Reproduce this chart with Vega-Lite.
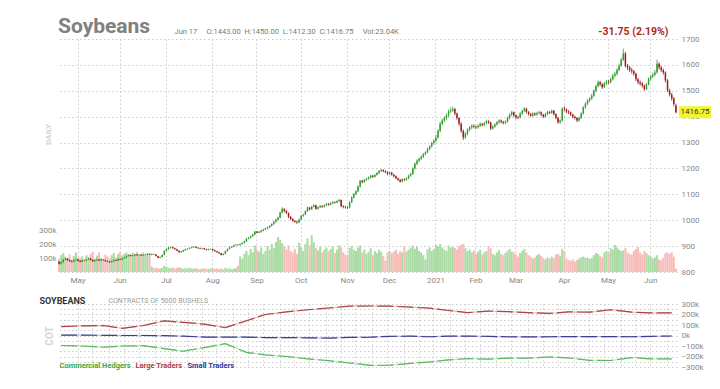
{
"$schema": "https://vega.github.io/schema/vega-lite/v6.json",
"background": "white",
"padding": {"left": 38, "top": 16, "right": 5, "bottom": 5},
"config": {"view": {"stroke": null}, "font": "Roboto"},
"resolve": {"scale": {"x": "shared"}, "legend": {"color": "independent"}},
"spacing": 12,
"datasets": {
"px": [
{"d":"2020-04-20","o":840,"h":842,"l":829,"c":832,"v":95},
{"d":"2020-04-21","o":832,"h":841,"l":830,"c":838,"v":120},
{"d":"2020-04-22","o":838,"h":850,"l":836,"c":848,"v":135},
{"d":"2020-04-23","o":848,"h":855,"l":845,"c":852,"v":110},
{"d":"2020-04-24","o":852,"h":854,"l":843,"c":846,"v":100},
{"d":"2020-04-27","o":846,"h":848,"l":839,"c":842,"v":125},
{"d":"2020-04-28","o":842,"h":845,"l":837,"c":840,"v":90},
{"d":"2020-04-29","o":840,"h":848,"l":838,"c":846,"v":115},
{"d":"2020-04-30","o":846,"h":851,"l":844,"c":848,"v":140},
{"d":"2020-05-01","o":848,"h":850,"l":841,"c":843,"v":105},
{"d":"2020-05-04","o":843,"h":845,"l":837,"c":840,"v":98},
{"d":"2020-05-05","o":840,"h":847,"l":838,"c":845,"v":112},
{"d":"2020-05-06","o":845,"h":848,"l":842,"c":844,"v":85},
{"d":"2020-05-07","o":844,"h":851,"l":842,"c":849,"v":120},
{"d":"2020-05-08","o":849,"h":854,"l":847,"c":852,"v":108},
{"d":"2020-05-11","o":852,"h":853,"l":844,"c":846,"v":130},
{"d":"2020-05-12","o":846,"h":848,"l":840,"c":842,"v":145},
{"d":"2020-05-13","o":842,"h":847,"l":840,"c":845,"v":96},
{"d":"2020-05-14","o":845,"h":850,"l":843,"c":848,"v":118},
{"d":"2020-05-15","o":848,"h":849,"l":842,"c":844,"v":140},
{"d":"2020-05-18","o":844,"h":850,"l":842,"c":848,"v":100},
{"d":"2020-05-19","o":848,"h":850,"l":844,"c":846,"v":88},
{"d":"2020-05-20","o":846,"h":848,"l":840,"c":842,"v":125},
{"d":"2020-05-21","o":842,"h":844,"l":838,"c":840,"v":112},
{"d":"2020-05-22","o":840,"h":842,"l":835,"c":838,"v":97},
{"d":"2020-05-26","o":838,"h":844,"l":836,"c":842,"v":120},
{"d":"2020-05-27","o":842,"h":848,"l":840,"c":846,"v":135},
{"d":"2020-05-28","o":846,"h":848,"l":842,"c":844,"v":104},
{"d":"2020-05-29","o":844,"h":852,"l":843,"c":850,"v":128},
{"d":"2020-06-01","o":850,"h":852,"l":846,"c":848,"v":143},
{"d":"2020-06-02","o":848,"h":854,"l":846,"c":852,"v":118},
{"d":"2020-06-03","o":852,"h":858,"l":850,"c":856,"v":132},
{"d":"2020-06-04","o":856,"h":864,"l":855,"c":862,"v":140},
{"d":"2020-06-05","o":862,"h":868,"l":860,"c":866,"v":125},
{"d":"2020-06-08","o":866,"h":867,"l":859,"c":862,"v":110},
{"d":"2020-06-09","o":862,"h":866,"l":860,"c":864,"v":138},
{"d":"2020-06-10","o":864,"h":870,"l":862,"c":868,"v":126},
{"d":"2020-06-11","o":868,"h":869,"l":863,"c":865,"v":145},
{"d":"2020-06-12","o":865,"h":869,"l":863,"c":867,"v":118},
{"d":"2020-06-15","o":867,"h":868,"l":862,"c":864,"v":130},
{"d":"2020-06-16","o":864,"h":868,"l":862,"c":866,"v":140},
{"d":"2020-06-17","o":866,"h":870,"l":864,"c":868,"v":122},
{"d":"2020-06-18","o":868,"h":872,"l":866,"c":870,"v":135},
{"d":"2020-06-19","o":870,"h":871,"l":864,"c":866,"v":115},
{"d":"2020-06-22","o":866,"h":871,"l":864,"c":869,"v":40},
{"d":"2020-06-23","o":869,"h":871,"l":866,"c":868,"v":28},
{"d":"2020-06-24","o":868,"h":869,"l":860,"c":862,"v":32},
{"d":"2020-06-25","o":862,"h":863,"l":853,"c":855,"v":26},
{"d":"2020-06-26","o":855,"h":860,"l":853,"c":858,"v":24},
{"d":"2020-06-29","o":858,"h":868,"l":856,"c":866,"v":30},
{"d":"2020-06-30","o":866,"h":884,"l":864,"c":881,"v":45},
{"d":"2020-07-01","o":881,"h":891,"l":879,"c":888,"v":38},
{"d":"2020-07-02","o":888,"h":897,"l":886,"c":894,"v":30},
{"d":"2020-07-06","o":894,"h":899,"l":891,"c":896,"v":28},
{"d":"2020-07-07","o":896,"h":898,"l":890,"c":892,"v":33},
{"d":"2020-07-08","o":892,"h":894,"l":886,"c":888,"v":25},
{"d":"2020-07-09","o":888,"h":890,"l":880,"c":882,"v":30},
{"d":"2020-07-10","o":882,"h":884,"l":874,"c":876,"v":35},
{"d":"2020-07-13","o":876,"h":881,"l":874,"c":879,"v":27},
{"d":"2020-07-14","o":879,"h":886,"l":877,"c":884,"v":22},
{"d":"2020-07-15","o":884,"h":890,"l":882,"c":888,"v":28},
{"d":"2020-07-16","o":888,"h":892,"l":886,"c":890,"v":25},
{"d":"2020-07-17","o":890,"h":895,"l":888,"c":893,"v":31},
{"d":"2020-07-20","o":893,"h":898,"l":891,"c":896,"v":26},
{"d":"2020-07-21","o":896,"h":900,"l":894,"c":898,"v":24},
{"d":"2020-07-22","o":898,"h":899,"l":892,"c":894,"v":29},
{"d":"2020-07-23","o":894,"h":896,"l":890,"c":892,"v":22},
{"d":"2020-07-24","o":892,"h":894,"l":888,"c":890,"v":20},
{"d":"2020-07-27","o":890,"h":894,"l":888,"c":892,"v":24},
{"d":"2020-07-28","o":892,"h":893,"l":886,"c":888,"v":27},
{"d":"2020-07-29","o":888,"h":890,"l":883,"c":885,"v":23},
{"d":"2020-07-30","o":885,"h":890,"l":883,"c":888,"v":21},
{"d":"2020-07-31","o":888,"h":891,"l":886,"c":889,"v":25},
{"d":"2020-08-03","o":889,"h":890,"l":882,"c":884,"v":28},
{"d":"2020-08-04","o":884,"h":886,"l":878,"c":880,"v":22},
{"d":"2020-08-05","o":880,"h":882,"l":874,"c":876,"v":26},
{"d":"2020-08-06","o":876,"h":878,"l":870,"c":872,"v":20},
{"d":"2020-08-07","o":872,"h":873,"l":864,"c":866,"v":25},
{"d":"2020-08-10","o":866,"h":872,"l":864,"c":870,"v":18},
{"d":"2020-08-11","o":870,"h":883,"l":868,"c":881,"v":30},
{"d":"2020-08-12","o":881,"h":891,"l":879,"c":889,"v":22},
{"d":"2020-08-13","o":889,"h":898,"l":887,"c":895,"v":26},
{"d":"2020-08-14","o":895,"h":900,"l":893,"c":898,"v":19},
{"d":"2020-08-17","o":898,"h":905,"l":896,"c":903,"v":24},
{"d":"2020-08-18","o":903,"h":908,"l":901,"c":905,"v":28},
{"d":"2020-08-19","o":905,"h":907,"l":902,"c":904,"v":45},
{"d":"2020-08-20","o":904,"h":910,"l":902,"c":908,"v":110},
{"d":"2020-08-21","o":908,"h":914,"l":906,"c":912,"v":95},
{"d":"2020-08-24","o":912,"h":921,"l":910,"c":918,"v":130},
{"d":"2020-08-25","o":918,"h":931,"l":916,"c":928,"v":150},
{"d":"2020-08-26","o":928,"h":935,"l":926,"c":932,"v":120},
{"d":"2020-08-27","o":932,"h":941,"l":930,"c":938,"v":165},
{"d":"2020-08-28","o":938,"h":948,"l":936,"c":945,"v":140},
{"d":"2020-08-31","o":945,"h":959,"l":943,"c":956,"v":190},
{"d":"2020-09-01","o":956,"h":958,"l":949,"c":952,"v":160},
{"d":"2020-09-02","o":952,"h":958,"l":950,"c":955,"v":145},
{"d":"2020-09-03","o":955,"h":963,"l":952,"c":960,"v":175},
{"d":"2020-09-04","o":960,"h":967,"l":957,"c":964,"v":130},
{"d":"2020-09-08","o":964,"h":971,"l":961,"c":968,"v":150},
{"d":"2020-09-09","o":968,"h":975,"l":965,"c":972,"v":185},
{"d":"2020-09-10","o":972,"h":981,"l":969,"c":978,"v":160},
{"d":"2020-09-11","o":978,"h":988,"l":975,"c":985,"v":200},
{"d":"2020-09-14","o":985,"h":997,"l":982,"c":994,"v":170},
{"d":"2020-09-15","o":994,"h":1006,"l":990,"c":1002,"v":215},
{"d":"2020-09-16","o":1002,"h":1014,"l":998,"c":1010,"v":250},
{"d":"2020-09-17","o":1010,"h":1034,"l":1007,"c":1030,"v":230},
{"d":"2020-09-18","o":1030,"h":1050,"l":1026,"c":1044,"v":205},
{"d":"2020-09-21","o":1044,"h":1046,"l":1030,"c":1036,"v":180},
{"d":"2020-09-22","o":1036,"h":1039,"l":1024,"c":1028,"v":160},
{"d":"2020-09-23","o":1028,"h":1030,"l":1008,"c":1013,"v":190},
{"d":"2020-09-24","o":1013,"h":1016,"l":1000,"c":1005,"v":150},
{"d":"2020-09-25","o":1005,"h":1008,"l":994,"c":998,"v":140},
{"d":"2020-09-28","o":998,"h":1001,"l":990,"c":994,"v":165},
{"d":"2020-09-29","o":994,"h":997,"l":986,"c":991,"v":130},
{"d":"2020-09-30","o":991,"h":1006,"l":989,"c":1003,"v":210},
{"d":"2020-10-01","o":1003,"h":1020,"l":1000,"c":1017,"v":175},
{"d":"2020-10-02","o":1017,"h":1025,"l":1013,"c":1022,"v":150},
{"d":"2020-10-05","o":1022,"h":1038,"l":1019,"c":1035,"v":200},
{"d":"2020-10-06","o":1035,"h":1053,"l":1032,"c":1049,"v":240},
{"d":"2020-10-07","o":1049,"h":1051,"l":1038,"c":1042,"v":190},
{"d":"2020-10-08","o":1042,"h":1056,"l":1040,"c":1052,"v":262},
{"d":"2020-10-09","o":1052,"h":1062,"l":1049,"c":1058,"v":210},
{"d":"2020-10-12","o":1058,"h":1060,"l":1040,"c":1044,"v":170},
{"d":"2020-10-13","o":1044,"h":1053,"l":1041,"c":1050,"v":155},
{"d":"2020-10-14","o":1050,"h":1059,"l":1047,"c":1055,"v":180},
{"d":"2020-10-15","o":1055,"h":1058,"l":1048,"c":1052,"v":140},
{"d":"2020-10-16","o":1052,"h":1061,"l":1049,"c":1058,"v":160},
{"d":"2020-10-19","o":1058,"h":1067,"l":1055,"c":1063,"v":175},
{"d":"2020-10-20","o":1063,"h":1066,"l":1056,"c":1060,"v":150},
{"d":"2020-10-21","o":1060,"h":1069,"l":1057,"c":1066,"v":165},
{"d":"2020-10-22","o":1066,"h":1074,"l":1063,"c":1070,"v":185},
{"d":"2020-10-23","o":1070,"h":1073,"l":1064,"c":1068,"v":135},
{"d":"2020-10-26","o":1068,"h":1077,"l":1065,"c":1074,"v":160},
{"d":"2020-10-27","o":1074,"h":1083,"l":1070,"c":1078,"v":190},
{"d":"2020-10-28","o":1078,"h":1080,"l":1050,"c":1055,"v":175},
{"d":"2020-10-29","o":1055,"h":1058,"l":1046,"c":1052,"v":140},
{"d":"2020-10-30","o":1052,"h":1056,"l":1045,"c":1050,"v":125},
{"d":"2020-11-02","o":1050,"h":1054,"l":1043,"c":1049,"v":120},
{"d":"2020-11-03","o":1049,"h":1073,"l":1046,"c":1070,"v":170},
{"d":"2020-11-04","o":1070,"h":1092,"l":1066,"c":1088,"v":185},
{"d":"2020-11-05","o":1088,"h":1105,"l":1084,"c":1101,"v":160},
{"d":"2020-11-06","o":1101,"h":1116,"l":1097,"c":1112,"v":150},
{"d":"2020-11-09","o":1112,"h":1135,"l":1108,"c":1130,"v":175},
{"d":"2020-11-10","o":1130,"h":1156,"l":1126,"c":1152,"v":190},
{"d":"2020-11-11","o":1152,"h":1155,"l":1142,"c":1148,"v":140},
{"d":"2020-11-12","o":1148,"h":1160,"l":1144,"c":1156,"v":160},
{"d":"2020-11-13","o":1156,"h":1164,"l":1152,"c":1160,"v":130},
{"d":"2020-11-16","o":1160,"h":1169,"l":1156,"c":1165,"v":145},
{"d":"2020-11-17","o":1165,"h":1176,"l":1161,"c":1172,"v":170},
{"d":"2020-11-18","o":1172,"h":1175,"l":1163,"c":1168,"v":120},
{"d":"2020-11-19","o":1168,"h":1179,"l":1165,"c":1175,"v":150},
{"d":"2020-11-20","o":1175,"h":1186,"l":1172,"c":1182,"v":135},
{"d":"2020-11-23","o":1182,"h":1194,"l":1178,"c":1190,"v":160},
{"d":"2020-11-24","o":1190,"h":1198,"l":1186,"c":1194,"v":145},
{"d":"2020-11-25","o":1194,"h":1197,"l":1185,"c":1190,"v":115},
{"d":"2020-11-27","o":1190,"h":1193,"l":1182,"c":1186,"v":80},
{"d":"2020-11-30","o":1186,"h":1189,"l":1174,"c":1179,"v":140},
{"d":"2020-12-01","o":1179,"h":1188,"l":1175,"c":1184,"v":150},
{"d":"2020-12-02","o":1184,"h":1187,"l":1172,"c":1176,"v":135},
{"d":"2020-12-03","o":1176,"h":1179,"l":1165,"c":1170,"v":145},
{"d":"2020-12-04","o":1170,"h":1173,"l":1158,"c":1162,"v":160},
{"d":"2020-12-07","o":1162,"h":1165,"l":1151,"c":1156,"v":130},
{"d":"2020-12-08","o":1156,"h":1159,"l":1145,"c":1150,"v":150},
{"d":"2020-12-09","o":1150,"h":1162,"l":1146,"c":1158,"v":140},
{"d":"2020-12-10","o":1158,"h":1162,"l":1151,"c":1156,"v":185},
{"d":"2020-12-11","o":1156,"h":1166,"l":1152,"c":1162,"v":145},
{"d":"2020-12-14","o":1162,"h":1176,"l":1158,"c":1172,"v":160},
{"d":"2020-12-15","o":1172,"h":1183,"l":1168,"c":1179,"v":175},
{"d":"2020-12-16","o":1179,"h":1204,"l":1175,"c":1200,"v":190},
{"d":"2020-12-17","o":1200,"h":1223,"l":1196,"c":1218,"v":165},
{"d":"2020-12-18","o":1218,"h":1235,"l":1213,"c":1230,"v":180},
{"d":"2020-12-21","o":1230,"h":1242,"l":1224,"c":1237,"v":150},
{"d":"2020-12-22","o":1237,"h":1250,"l":1232,"c":1245,"v":140},
{"d":"2020-12-23","o":1245,"h":1260,"l":1240,"c":1255,"v":120},
{"d":"2020-12-24","o":1255,"h":1266,"l":1250,"c":1262,"v":90},
{"d":"2020-12-28","o":1262,"h":1280,"l":1258,"c":1275,"v":160},
{"d":"2020-12-29","o":1275,"h":1290,"l":1270,"c":1285,"v":175},
{"d":"2020-12-30","o":1285,"h":1303,"l":1280,"c":1298,"v":150},
{"d":"2020-12-31","o":1298,"h":1313,"l":1292,"c":1307,"v":165},
{"d":"2021-01-04","o":1307,"h":1330,"l":1300,"c":1320,"v":195},
{"d":"2021-01-05","o":1320,"h":1352,"l":1315,"c":1345,"v":185},
{"d":"2021-01-06","o":1345,"h":1380,"l":1340,"c":1373,"v":200},
{"d":"2021-01-07","o":1373,"h":1392,"l":1366,"c":1385,"v":175},
{"d":"2021-01-08","o":1385,"h":1402,"l":1378,"c":1395,"v":160},
{"d":"2021-01-11","o":1395,"h":1412,"l":1388,"c":1405,"v":150},
{"d":"2021-01-12","o":1405,"h":1428,"l":1398,"c":1421,"v":190},
{"d":"2021-01-13","o":1421,"h":1436,"l":1414,"c":1425,"v":175},
{"d":"2021-01-14","o":1425,"h":1440,"l":1418,"c":1430,"v":180},
{"d":"2021-01-15","o":1430,"h":1434,"l":1405,"c":1412,"v":170},
{"d":"2021-01-19","o":1412,"h":1416,"l":1388,"c":1395,"v":160},
{"d":"2021-01-20","o":1395,"h":1398,"l":1365,"c":1373,"v":185},
{"d":"2021-01-21","o":1373,"h":1378,"l":1338,"c":1345,"v":195},
{"d":"2021-01-22","o":1345,"h":1350,"l":1310,"c":1320,"v":200},
{"d":"2021-01-25","o":1320,"h":1340,"l":1314,"c":1335,"v":170},
{"d":"2021-01-26","o":1335,"h":1355,"l":1328,"c":1350,"v":150},
{"d":"2021-01-27","o":1350,"h":1364,"l":1344,"c":1359,"v":160},
{"d":"2021-01-28","o":1359,"h":1370,"l":1352,"c":1365,"v":140},
{"d":"2021-01-29","o":1365,"h":1370,"l":1355,"c":1362,"v":155},
{"d":"2021-02-01","o":1362,"h":1366,"l":1352,"c":1359,"v":130},
{"d":"2021-02-02","o":1359,"h":1370,"l":1354,"c":1365,"v":145},
{"d":"2021-02-03","o":1365,"h":1378,"l":1360,"c":1372,"v":160},
{"d":"2021-02-04","o":1372,"h":1376,"l":1362,"c":1368,"v":125},
{"d":"2021-02-05","o":1368,"h":1380,"l":1363,"c":1375,"v":140},
{"d":"2021-02-08","o":1375,"h":1388,"l":1370,"c":1382,"v":150},
{"d":"2021-02-09","o":1382,"h":1386,"l":1372,"c":1378,"v":185},
{"d":"2021-02-10","o":1378,"h":1380,"l":1348,"c":1354,"v":170},
{"d":"2021-02-11","o":1354,"h":1367,"l":1350,"c":1362,"v":130},
{"d":"2021-02-12","o":1362,"h":1375,"l":1357,"c":1370,"v":120},
{"d":"2021-02-16","o":1370,"h":1383,"l":1366,"c":1378,"v":140},
{"d":"2021-02-17","o":1378,"h":1390,"l":1373,"c":1385,"v":155},
{"d":"2021-02-18","o":1385,"h":1389,"l":1374,"c":1380,"v":130},
{"d":"2021-02-19","o":1380,"h":1384,"l":1370,"c":1376,"v":120},
{"d":"2021-02-22","o":1376,"h":1386,"l":1371,"c":1381,"v":135},
{"d":"2021-02-23","o":1381,"h":1400,"l":1377,"c":1395,"v":150},
{"d":"2021-02-24","o":1395,"h":1413,"l":1390,"c":1408,"v":165},
{"d":"2021-02-25","o":1408,"h":1423,"l":1402,"c":1417,"v":145},
{"d":"2021-02-26","o":1417,"h":1420,"l":1398,"c":1405,"v":140},
{"d":"2021-03-01","o":1405,"h":1409,"l":1390,"c":1397,"v":125},
{"d":"2021-03-02","o":1399,"h":1404,"l":1390,"c":1397,"v":110},
{"d":"2021-03-03","o":1397,"h":1417,"l":1393,"c":1412,"v":135},
{"d":"2021-03-04","o":1412,"h":1427,"l":1407,"c":1422,"v":150},
{"d":"2021-03-05","o":1422,"h":1437,"l":1417,"c":1431,"v":165},
{"d":"2021-03-08","o":1431,"h":1434,"l":1412,"c":1418,"v":140},
{"d":"2021-03-09","o":1418,"h":1422,"l":1404,"c":1410,"v":120},
{"d":"2021-03-10","o":1410,"h":1414,"l":1398,"c":1404,"v":110},
{"d":"2021-03-11","o":1404,"h":1417,"l":1400,"c":1412,"v":95},
{"d":"2021-03-12","o":1412,"h":1416,"l":1403,"c":1408,"v":105},
{"d":"2021-03-15","o":1408,"h":1419,"l":1403,"c":1414,"v":120},
{"d":"2021-03-16","o":1414,"h":1423,"l":1409,"c":1417,"v":130},
{"d":"2021-03-17","o":1417,"h":1420,"l":1402,"c":1408,"v":115},
{"d":"2021-03-18","o":1408,"h":1411,"l":1394,"c":1400,"v":100},
{"d":"2021-03-19","o":1400,"h":1415,"l":1396,"c":1410,"v":90},
{"d":"2021-03-22","o":1410,"h":1423,"l":1405,"c":1418,"v":105},
{"d":"2021-03-23","o":1418,"h":1422,"l":1410,"c":1415,"v":95},
{"d":"2021-03-24","o":1415,"h":1428,"l":1410,"c":1423,"v":110},
{"d":"2021-03-25","o":1423,"h":1426,"l":1404,"c":1410,"v":100},
{"d":"2021-03-26","o":1410,"h":1413,"l":1390,"c":1396,"v":125},
{"d":"2021-03-29","o":1396,"h":1399,"l":1372,"c":1378,"v":130},
{"d":"2021-03-30","o":1378,"h":1390,"l":1373,"c":1385,"v":115},
{"d":"2021-03-31","o":1385,"h":1436,"l":1381,"c":1431,"v":165},
{"d":"2021-04-01","o":1431,"h":1440,"l":1420,"c":1428,"v":150},
{"d":"2021-04-05","o":1428,"h":1432,"l":1413,"c":1420,"v":95},
{"d":"2021-04-06","o":1420,"h":1425,"l":1410,"c":1417,"v":85},
{"d":"2021-04-07","o":1417,"h":1420,"l":1402,"c":1408,"v":80},
{"d":"2021-04-08","o":1408,"h":1411,"l":1394,"c":1400,"v":90},
{"d":"2021-04-09","o":1400,"h":1404,"l":1389,"c":1395,"v":75},
{"d":"2021-04-12","o":1395,"h":1398,"l":1379,"c":1385,"v":85},
{"d":"2021-04-13","o":1385,"h":1400,"l":1381,"c":1395,"v":95},
{"d":"2021-04-14","o":1395,"h":1417,"l":1391,"c":1412,"v":105},
{"d":"2021-04-15","o":1412,"h":1441,"l":1408,"c":1436,"v":110},
{"d":"2021-04-16","o":1436,"h":1456,"l":1430,"c":1450,"v":100},
{"d":"2021-04-19","o":1450,"h":1468,"l":1445,"c":1462,"v":105},
{"d":"2021-04-20","o":1462,"h":1476,"l":1456,"c":1470,"v":95},
{"d":"2021-04-21","o":1470,"h":1488,"l":1465,"c":1481,"v":100},
{"d":"2021-04-22","o":1481,"h":1506,"l":1476,"c":1500,"v":120},
{"d":"2021-04-23","o":1500,"h":1524,"l":1494,"c":1518,"v":135},
{"d":"2021-04-26","o":1518,"h":1540,"l":1512,"c":1533,"v":130},
{"d":"2021-04-27","o":1533,"h":1538,"l":1518,"c":1525,"v":115},
{"d":"2021-04-28","o":1525,"h":1530,"l":1507,"c":1514,"v":105},
{"d":"2021-04-29","o":1514,"h":1534,"l":1510,"c":1528,"v":140},
{"d":"2021-04-30","o":1528,"h":1542,"l":1522,"c":1535,"v":150},
{"d":"2021-05-03","o":1535,"h":1542,"l":1526,"c":1533,"v":135},
{"d":"2021-05-04","o":1533,"h":1552,"l":1528,"c":1545,"v":170},
{"d":"2021-05-05","o":1545,"h":1565,"l":1540,"c":1558,"v":160},
{"d":"2021-05-06","o":1558,"h":1574,"l":1552,"c":1566,"v":193},
{"d":"2021-05-07","o":1566,"h":1588,"l":1560,"c":1580,"v":175},
{"d":"2021-05-10","o":1580,"h":1605,"l":1575,"c":1597,"v":160},
{"d":"2021-05-11","o":1597,"h":1628,"l":1592,"c":1620,"v":150},
{"d":"2021-05-12","o":1620,"h":1663,"l":1615,"c":1644,"v":155},
{"d":"2021-05-13","o":1644,"h":1650,"l":1590,"c":1597,"v":170},
{"d":"2021-05-14","o":1597,"h":1604,"l":1580,"c":1590,"v":140},
{"d":"2021-05-17","o":1590,"h":1596,"l":1572,"c":1580,"v":130},
{"d":"2021-05-18","o":1580,"h":1588,"l":1566,"c":1575,"v":125},
{"d":"2021-05-19","o":1575,"h":1581,"l":1558,"c":1566,"v":150},
{"d":"2021-05-20","o":1566,"h":1570,"l":1538,"c":1545,"v":165},
{"d":"2021-05-21","o":1545,"h":1550,"l":1525,"c":1533,"v":180},
{"d":"2021-05-24","o":1533,"h":1540,"l":1520,"c":1528,"v":140},
{"d":"2021-05-25","o":1528,"h":1534,"l":1512,"c":1520,"v":125},
{"d":"2021-05-26","o":1520,"h":1525,"l":1500,"c":1507,"v":150},
{"d":"2021-05-27","o":1507,"h":1530,"l":1503,"c":1525,"v":135},
{"d":"2021-05-28","o":1525,"h":1552,"l":1520,"c":1546,"v":120},
{"d":"2021-06-01","o":1546,"h":1562,"l":1540,"c":1555,"v":110},
{"d":"2021-06-02","o":1555,"h":1570,"l":1550,"c":1562,"v":95},
{"d":"2021-06-03","o":1562,"h":1580,"l":1556,"c":1571,"v":105},
{"d":"2021-06-04","o":1571,"h":1620,"l":1566,"c":1604,"v":120},
{"d":"2021-06-07","o":1604,"h":1610,"l":1582,"c":1590,"v":90},
{"d":"2021-06-08","o":1590,"h":1596,"l":1572,"c":1580,"v":85},
{"d":"2021-06-09","o":1580,"h":1586,"l":1562,"c":1571,"v":100},
{"d":"2021-06-10","o":1571,"h":1575,"l":1532,"c":1540,"v":135},
{"d":"2021-06-11","o":1540,"h":1545,"l":1495,"c":1501,"v":140},
{"d":"2021-06-14","o":1501,"h":1508,"l":1478,"c":1485,"v":130},
{"d":"2021-06-15","o":1485,"h":1492,"l":1462,"c":1470,"v":140},
{"d":"2021-06-16","o":1470,"h":1476,"l":1440,"c":1448.5,"v":110},
{"d":"2021-06-17","o":1443,"h":1450,"l":1412.3,"c":1416.75,"v":23}
],
"cot": [
{"d":"2020-04-21","s":"Large Traders","n":85},{"d":"2020-04-21","s":"Small Traders","n":4},{"d":"2020-04-21","s":"Commercial Hedgers","n":-95},
{"d":"2020-05-05","s":"Large Traders","n":92},{"d":"2020-05-05","s":"Small Traders","n":4},{"d":"2020-05-05","s":"Commercial Hedgers","n":-100},
{"d":"2020-05-19","s":"Large Traders","n":95},{"d":"2020-05-19","s":"Small Traders","n":2},{"d":"2020-05-19","s":"Commercial Hedgers","n":-112},
{"d":"2020-06-02","s":"Large Traders","n":68},{"d":"2020-06-02","s":"Small Traders","n":0},{"d":"2020-06-02","s":"Commercial Hedgers","n":-100},
{"d":"2020-06-16","s":"Large Traders","n":95},{"d":"2020-06-16","s":"Small Traders","n":0},{"d":"2020-06-16","s":"Commercial Hedgers","n":-97},
{"d":"2020-06-30","s":"Large Traders","n":140},{"d":"2020-06-30","s":"Small Traders","n":-2},{"d":"2020-06-30","s":"Commercial Hedgers","n":-125},
{"d":"2020-07-14","s":"Large Traders","n":125},{"d":"2020-07-14","s":"Small Traders","n":-6},{"d":"2020-07-14","s":"Commercial Hedgers","n":-150},
{"d":"2020-07-28","s":"Large Traders","n":108},{"d":"2020-07-28","s":"Small Traders","n":-15},{"d":"2020-07-28","s":"Commercial Hedgers","n":-115},
{"d":"2020-08-11","s":"Large Traders","n":75},{"d":"2020-08-11","s":"Small Traders","n":-15},{"d":"2020-08-11","s":"Commercial Hedgers","n":-78},
{"d":"2020-08-25","s":"Large Traders","n":140},{"d":"2020-08-25","s":"Small Traders","n":-15},{"d":"2020-08-25","s":"Commercial Hedgers","n":-160},
{"d":"2020-09-08","s":"Large Traders","n":200},{"d":"2020-09-08","s":"Small Traders","n":-20},{"d":"2020-09-08","s":"Commercial Hedgers","n":-185},
{"d":"2020-09-22","s":"Large Traders","n":225},{"d":"2020-09-22","s":"Small Traders","n":-20},{"d":"2020-09-22","s":"Commercial Hedgers","n":-200},
{"d":"2020-10-06","s":"Large Traders","n":245},{"d":"2020-10-06","s":"Small Traders","n":-22},{"d":"2020-10-06","s":"Commercial Hedgers","n":-222},
{"d":"2020-10-20","s":"Large Traders","n":262},{"d":"2020-10-20","s":"Small Traders","n":-25},{"d":"2020-10-20","s":"Commercial Hedgers","n":-240},
{"d":"2020-11-03","s":"Large Traders","n":279},{"d":"2020-11-03","s":"Small Traders","n":-18},{"d":"2020-11-03","s":"Commercial Hedgers","n":-262},
{"d":"2020-11-17","s":"Large Traders","n":281},{"d":"2020-11-17","s":"Small Traders","n":-16},{"d":"2020-11-17","s":"Commercial Hedgers","n":-284},
{"d":"2020-12-01","s":"Large Traders","n":280},{"d":"2020-12-01","s":"Small Traders","n":-8},{"d":"2020-12-01","s":"Commercial Hedgers","n":-283},
{"d":"2020-12-15","s":"Large Traders","n":270},{"d":"2020-12-15","s":"Small Traders","n":-6},{"d":"2020-12-15","s":"Commercial Hedgers","n":-266},
{"d":"2020-12-29","s":"Large Traders","n":260},{"d":"2020-12-29","s":"Small Traders","n":-12},{"d":"2020-12-29","s":"Commercial Hedgers","n":-252},
{"d":"2021-01-12","s":"Large Traders","n":238},{"d":"2021-01-12","s":"Small Traders","n":-6},{"d":"2021-01-12","s":"Commercial Hedgers","n":-232},
{"d":"2021-01-26","s":"Large Traders","n":218},{"d":"2021-01-26","s":"Small Traders","n":-6},{"d":"2021-01-26","s":"Commercial Hedgers","n":-220},
{"d":"2021-02-09","s":"Large Traders","n":232},{"d":"2021-02-09","s":"Small Traders","n":-8},{"d":"2021-02-09","s":"Commercial Hedgers","n":-225},
{"d":"2021-02-23","s":"Large Traders","n":228},{"d":"2021-02-23","s":"Small Traders","n":-12},{"d":"2021-02-23","s":"Commercial Hedgers","n":-216},
{"d":"2021-03-09","s":"Large Traders","n":218},{"d":"2021-03-09","s":"Small Traders","n":-14},{"d":"2021-03-09","s":"Commercial Hedgers","n":-216},
{"d":"2021-03-23","s":"Large Traders","n":210},{"d":"2021-03-23","s":"Small Traders","n":-12},{"d":"2021-03-23","s":"Commercial Hedgers","n":-205},
{"d":"2021-04-06","s":"Large Traders","n":225},{"d":"2021-04-06","s":"Small Traders","n":-10},{"d":"2021-04-06","s":"Commercial Hedgers","n":-214},
{"d":"2021-04-20","s":"Large Traders","n":222},{"d":"2021-04-20","s":"Small Traders","n":-10},{"d":"2021-04-20","s":"Commercial Hedgers","n":-236},
{"d":"2021-05-04","s":"Large Traders","n":245},{"d":"2021-05-04","s":"Small Traders","n":-10},{"d":"2021-05-04","s":"Commercial Hedgers","n":-238},
{"d":"2021-05-18","s":"Large Traders","n":222},{"d":"2021-05-18","s":"Small Traders","n":-12},{"d":"2021-05-18","s":"Commercial Hedgers","n":-210},
{"d":"2021-06-01","s":"Large Traders","n":216},{"d":"2021-06-01","s":"Small Traders","n":-8},{"d":"2021-06-01","s":"Commercial Hedgers","n":-222},
{"d":"2021-06-15","s":"Large Traders","n":216},{"d":"2021-06-15","s":"Small Traders","n":-5},{"d":"2021-06-15","s":"Commercial Hedgers","n":-222}
]
},
"vconcat": [
{
"title": {"text": "Soybeans", "anchor": "start", "frame": "group", "fontSize": 21, "fontWeight": "bold", "color": "#808080", "font": "Roboto", "offset": -11},
"width": 619,
"height": 233,
"data": {"name": "px"},
"encoding": {
"x": {"field": "d", "type": "ordinal", "scale": {"paddingInner": 0, "paddingOuter": 0},
"axis": {"values": ["2020-05-01","2020-06-01","2020-07-01","2020-08-03","2020-09-01","2020-10-01","2020-11-02","2020-12-01","2021-01-04","2021-02-01","2021-03-01","2021-04-01","2021-05-03","2021-06-01"],
"labelExpr": "utcFormat(toDate(datum.value), '%m') == '01' ? utcFormat(toDate(datum.value), '%Y') : utcFormat(toDate(datum.value), '%b')",
"labelAngle": 0, "labelFontSize": 8, "labelColor": "#888888", "labelPadding": 4, "labelFont": "Roboto",
"grid": true, "gridColor": "#cccccc", "gridDash": [1.5, 2.5], "domain": false, "ticks": false,
"title": "Jun 17\u00a0\u00a0\u00a0\u00a0 O:1443.00\u00a0 H:1450.00\u00a0 L:1412.30\u00a0 C:1416.75\u00a0\u00a0\u00a0\u00a0 Vol:23.04K",
"titleX": 116, "titleY": -241, "titleAlign": "left", "titleBaseline": "middle", "titleFontSize": 7.5, "titleFontWeight": "normal", "titleColor": "#777777", "titleFont": "Roboto"}}
},
"layer": [
{"mark": {"type": "bar", "width": {"band": 1}},
"encoding": {
"y": {"field": "v", "type": "quantitative", "scale": {"domain": [0, 1665], "nice": false, "zero": true},
"axis": {"orient": "left", "values": [100, 200, 300], "labelExpr": "datum.value + 'k'", "grid": false, "domain": false, "ticks": false, "labelFontSize": 8, "labelColor": "#888888", "labelPadding": 2, "labelFont": "Roboto",
"title": "DAILY", "titleX": -10, "titleY": 95, "titleAngle": -90, "titleAlign": "center", "titleBaseline": "middle", "titleColor": "#d2d2d2", "titleFontSize": 8, "titleFontWeight": "bold", "titleFont": "Roboto"}},
"color": {"condition": {"test": "datum.c >= datum.o", "value": "#abdca5"}, "value": "#f7bdb9"}
}},
{"mark": {"type": "rule", "strokeWidth": 0.8},
"encoding": {
"y": {"field": "l", "type": "quantitative", "scale": {"domain": [800, 1700], "nice": false, "zero": false},
"axis": {"orient": "right", "values": [800, 900, 1000, 1100, 1200, 1300, 1400, 1500, 1600, 1700], "format": "d", "labelFlush": false, "grid": true, "gridColor": "#cccccc", "gridDash": [1.5, 2.5], "domain": false, "ticks": false, "labelFontSize": 8, "labelColor": "#888888", "labelPadding": 4, "labelFont": "Roboto",
"title": "-31.75 (2.19%)", "titleAngle": 0, "titleX": -9, "titleY": -8, "titleAlign": "right", "titleBaseline": "middle", "titleColor": "#b3261e", "titleFontSize": 10.5, "titleFontWeight": "bold", "titleFont": "Roboto"}},
"y2": {"field": "h"},
"color": {"condition": {"test": "datum.c >= datum.o", "value": "#2e9d2e"}, "value": "#9b1c1c"}
}},
{"mark": {"type": "bar", "width": {"band": 0.7}},
"encoding": {
"y": {"field": "o", "type": "quantitative", "scale": {"domain": [800, 1700], "nice": false, "zero": false}, "axis": null},
"y2": {"field": "c"},
"color": {"condition": {"test": "datum.c >= datum.o", "value": "#2e9d2e"}, "value": "#9b1c1c"}
}},
{"transform": [{"filter": "datum.d == '2021-06-17'"}],
"mark": {"type": "point", "shape": "M0.2,-0.375L2.2,-0.375L2.2,0.375L0.2,0.375Z", "size": 1024, "filled": true, "opacity": 1, "color": "#f3f32e", "strokeWidth": 0},
"encoding": {"y": {"field": "c", "type": "quantitative", "scale": {"domain": [800, 1700], "nice": false, "zero": false}, "axis": null}}},
{"transform": [{"filter": "datum.d == '2021-06-17'"}],
"mark": {"type": "text", "dx": 19, "align": "center", "baseline": "middle", "fontSize": 8, "color": "#333333", "font": "Roboto"},
"encoding": {"y": {"field": "c", "type": "quantitative", "scale": {"domain": [800, 1700], "nice": false, "zero": false}, "axis": null}, "text": {"field": "c", "type": "quantitative", "format": ".2f"}}}
],
"resolve": {"scale": {"y": "independent"}, "axis": {"y": "independent"}}
},
{
"width": 619,
"height": 63,
"data": {"name": "cot"},
"encoding": {
"x": {"field": "d", "type": "ordinal",
"axis": {"values": ["2020-05-01","2020-05-12","2020-05-22","2020-06-03","2020-06-12","2020-06-24","2020-07-06","2020-07-16","2020-07-27","2020-08-05","2020-08-17","2020-08-26","2020-09-04","2020-09-17","2020-09-28","2020-10-07","2020-10-19","2020-10-28","2020-11-06","2020-11-18","2020-11-30","2020-12-10","2020-12-21","2020-12-31","2021-01-13","2021-01-25","2021-02-03","2021-02-16","2021-02-25","2021-03-09","2021-03-18","2021-03-29","2021-04-09","2021-04-20","2021-04-29","2021-05-11","2021-05-20","2021-06-01","2021-06-11"],
"labels": false, "ticks": false, "domain": false, "grid": true, "gridColor": "#cccccc", "gridDash": [1.5, 2.5],
"title": "SOYBEANS", "titleX": -19, "titleY": -67, "titleAlign": "left", "titleBaseline": "middle", "titleFontSize": 9, "titleFontWeight": "bold", "titleColor": "#333333", "titleFont": "Roboto"}},
"color": {"field": "s", "type": "nominal",
"scale": {"domain": ["Commercial Hedgers", "Large Traders", "Small Traders"], "range": ["#5cb85c", "#a84444", "#3d3d99"]},
"legend": {"orient": "bottom-left", "direction": "horizontal", "title": null, "symbolSize": 0, "symbolStrokeWidth": 0, "symbolOpacity": 0, "labelFontSize": 7.5, "labelFontWeight": "bold", "labelFont": "Roboto", "labelOffset": -3, "columnPadding": -1, "offset": -3, "padding": 0,
"encode": {"labels": {"update": {"fill": {"signal": "datum.value === 'Commercial Hedgers' ? '#3caa3c' : datum.value === 'Large Traders' ? '#b33a3a' : '#34349a'"}}}}}}
},
"layer": [
{"mark": {"type": "line", "strokeWidth": 1.3, "opacity": 0.3},
"encoding": {"y": {"field": "n", "type": "quantitative", "scale": {"domain": [-300, 300], "nice": false},
"axis": {"orient": "left", "labels": false, "ticks": false, "domain": false, "grid": false, "title": "COT", "titleColor": "#d5d5d5", "titleFontSize": 10, "titleFontWeight": "bold", "titlePadding": 4, "titleFont": "Roboto"}}}},
{"mark": {"type": "line", "strokeWidth": 1.2, "strokeDash": [16, 4]},
"encoding": {"y": {"field": "n", "type": "quantitative",
"axis": {"orient": "right", "values": [-300, -250, -200, -150, -100, -50, 0, 50, 100, 150, 200, 250, 300], "labelFlush": false, "labelOverlap": false,
"labelExpr": "datum.value % 100 == 0 ? (datum.value < 0 ? '\u2212' + abs(datum.value) : datum.value) + 'k' : ''",
"grid": true, "gridColor": "#cccccc", "gridDash": [1.5, 2.5], "domain": false, "ticks": false, "labelFontSize": 8, "labelColor": "#888888", "labelPadding": 4, "labelFont": "Roboto",
"title": "CONTRACTS OF 5000 BUSHELS", "titleAngle": 0, "titleX": -569, "titleY": -4, "titleAlign": "left", "titleBaseline": "middle", "titleFontSize": 7, "titleFontWeight": "normal", "titleColor": "#9a9a9a", "titleFont": "Roboto"}}}}
],
"resolve": {"axis": {"y": "independent"}}
}
]
}
